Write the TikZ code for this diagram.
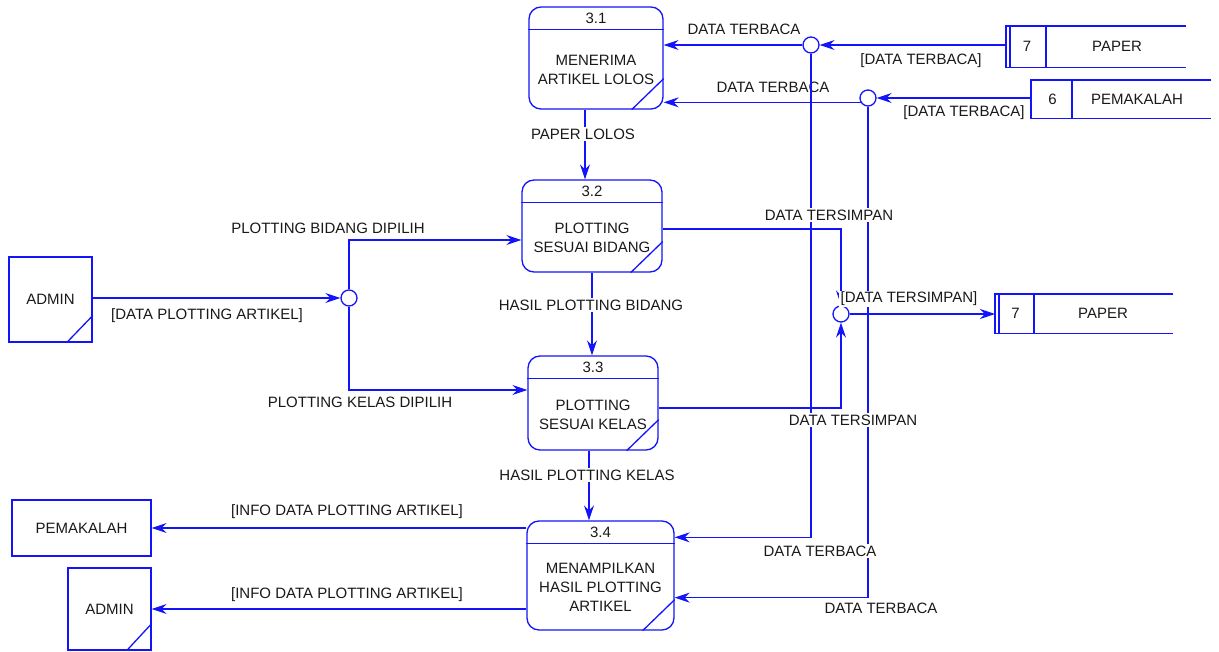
\documentclass[tikz,border=0pt]{standalone}
\usepackage{fontspec}
\setmainfont{Liberation Sans}
\usetikzlibrary{arrows.meta,calc}
\definecolor{dfdblue}{RGB}{20,20,250}
\definecolor{dfdtext}{RGB}{25,25,25}

% process box: name, centre x, centre y, width, height, number, title
\newcommand\dfdproc[7]{%
  \node[proc, minimum width=#4pt, minimum height=#5pt] (#1) at (#2,#3) {};
  \draw[ln] ($(#1.north west)+(0,23)$) -- ($(#1.north east)+(0,23)$);
  \node[txt] at ($(#1.north)+(0,11.5)$) {#6};
  \node[txt, align=center] at ($(#1.center)+(0,11.5)$) {#7};
  \draw[ln] ($(#1.south east)+(-32,0)$) -- ($(#1.south east)+(0,-31)$);
}
% data store: name, left x, top y, width, height, number, title, divider offset, title offset
\newcommand\dfdstore[9]{%
  \node[inner sep=0, minimum width=#4pt, minimum height=#5pt, anchor=north west] (#1) at (#2,#3) {};
  \draw[ln] (#1.north east) -- (#1.north west) -- (#1.south west) -- (#1.south east);
  \draw[ln] ($(#1.north west)+(#8,0)$) -- ($(#1.south west)+(#8,0)$);
  \node[txt] at ($(#1.west)+(#8/2+1,0)$) {#6};
  \node[txt] at ($(#1.west)+(#9,0)$) {#7};
}

\tikzset{
  ln/.style={draw=dfdblue, line width=1.3pt},
  arr/.style={ln, -{Stealth[length=15pt, width=10pt, inset=5pt]}},
  proc/.style={ln, rounded corners=12pt, inner sep=0},
  ent/.style={ln, inner sep=0, text=dfdtext},
  junc/.style={ln, circle, fill=white, minimum size=16pt, inner sep=0},
  txt/.style={text=dfdtext, inner sep=0, font=\fontsize{15}{19}\selectfont},
  lbl/.style={txt, fill=white, inner sep=1.5pt},
}

\begin{document}
\begin{tikzpicture}[x=1pt, y=-1pt]
\useasboundingbox (0,0) rectangle (1219,652);

% processes
\dfdproc{p31}{596}{58}{134}{102}{3.1}{MENERIMA\\ARTIKEL LOLOS}
\dfdproc{p32}{592}{226}{140}{92}{3.2}{PLOTTING\\SESUAI BIDANG}
\dfdproc{p33}{593}{403}{130}{94}{3.3}{PLOTTING\\SESUAI KELAS}
\dfdproc{p34}{600.5}{575.5}{147}{109}{3.4}{MENAMPILKAN\\HASIL PLOTTING\\ARTIKEL}

% external entities
\node[ent, minimum width=83pt, minimum height=85pt, font=\fontsize{15}{19}\selectfont] (e1) at (50.5,299.5) {ADMIN};
\draw[ln] ($(e1.south east)+(-26,0)$) -- ($(e1.south east)+(0,-27)$);
\node[ent, minimum width=139pt, minimum height=56pt, font=\fontsize{15}{19}\selectfont] (e2) at (81.5,528) {PEMAKALAH};
\node[ent, minimum width=83pt, minimum height=82pt, font=\fontsize{15}{19}\selectfont] (e3) at (109.5,609) {ADMIN};
\draw[ln] ($(e3.south east)+(-25,0)$) -- ($(e3.south east)+(0,-27)$);

% data stores (the PAPER stores have a doubled left edge)
\dfdstore{s7a}{1006}{26}{180}{41}{7}{PAPER}{40}{111}
\draw[ln] ([xshift=4pt]s7a.north west) -- ([xshift=4pt]s7a.south west);
\dfdstore{s6}{1031}{80}{180}{38}{6}{PEMAKALAH}{41}{106}
\dfdstore{s7b}{995}{294}{178}{39}{7}{PAPER}{39}{108}
\draw[ln] ([xshift=4pt]s7b.north west) -- ([xshift=4pt]s7b.south west);

% junctions
\node[junc] (J1) at (811,45) {};
\node[junc] (J2) at (868,98) {};
\node[junc] (J3) at (349,298) {};
\node[junc] (J4) at (841,314) {};

% label crossed by a line drawn over it
\node[txt] at (773,87) {DATA TERBACA};

% flows into 3.1
\draw[arr] (s7a.west |- J1) -- (J1);
\draw[arr] (J1) -- (p31.east |- J1);
\draw[arr] (s6.west |- J2) -- (J2);
\draw[arr] (J2.210) -- (p31.east |- J2.210);

% reads towards 3.4
\draw[arr] (J1) |- ([yshift=-17pt]p34.north east);
\draw[arr] (J2) |- ([yshift=33pt]p34.south east);

% flows between processes
\draw[arr] ([xshift=-11pt]p31.south) -- ([xshift=-11pt]p31.south |- p32.north);
\draw[arr] (p32.south) -- (p32.south |- p33.north);
\draw[arr] ([xshift=-4pt]p33.south) -- ([xshift=-4pt]p33.south |- p34.north);

% plotting choices
\draw[arr] (e1.east |- J3) -- (J3);
\draw[arr] (J3) |- ([yshift=-14pt]p32.west);
\draw[arr] (J3) |- ([yshift=13pt]p33.west);

% stored results
\draw[arr] ([yshift=-3pt]p32.east) -| (J4);
\draw[arr] ([yshift=-5pt]p33.east) -| (J4);
\draw[arr] (J4) -- (s7b.west |- J4);

% outputs
\draw[arr] (p34.west |- e2.east) -- (e2.east);
\draw[arr] (p34.west |- e3.east) -- (e3.east);

% flow labels
\node[lbl] at (744,29) {DATA TERBACA};
\node[lbl] at (921,61) {[DATA TERBACA]};
\node[lbl] at (964,113) {[DATA TERBACA]};
\node[lbl] at (583,134) {PAPER LOLOS};
\node[lbl] at (829,215) {DATA TERSIMPAN};
\node[lbl] at (328,228) {PLOTTING BIDANG DIPILIH};
\node[lbl] at (207,316) {[DATA PLOTTING ARTIKEL]};
\node[lbl] at (909,299) {[DATA TERSIMPAN]};
\node[lbl] at (591,305) {HASIL PLOTTING BIDANG};
\node[lbl] at (360,402) {PLOTTING KELAS DIPILIH};
\node[lbl] at (853,420) {DATA TERSIMPAN};
\node[lbl] at (587,475) {HASIL PLOTTING KELAS};
\node[lbl] at (347,512) {[INFO DATA PLOTTING ARTIKEL]};
\node[lbl] at (347,595) {[INFO DATA PLOTTING ARTIKEL]};
\node[lbl] at (820,551) {DATA TERBACA};
\node[lbl] at (881,608) {DATA TERBACA};
\end{tikzpicture}
\end{document}
